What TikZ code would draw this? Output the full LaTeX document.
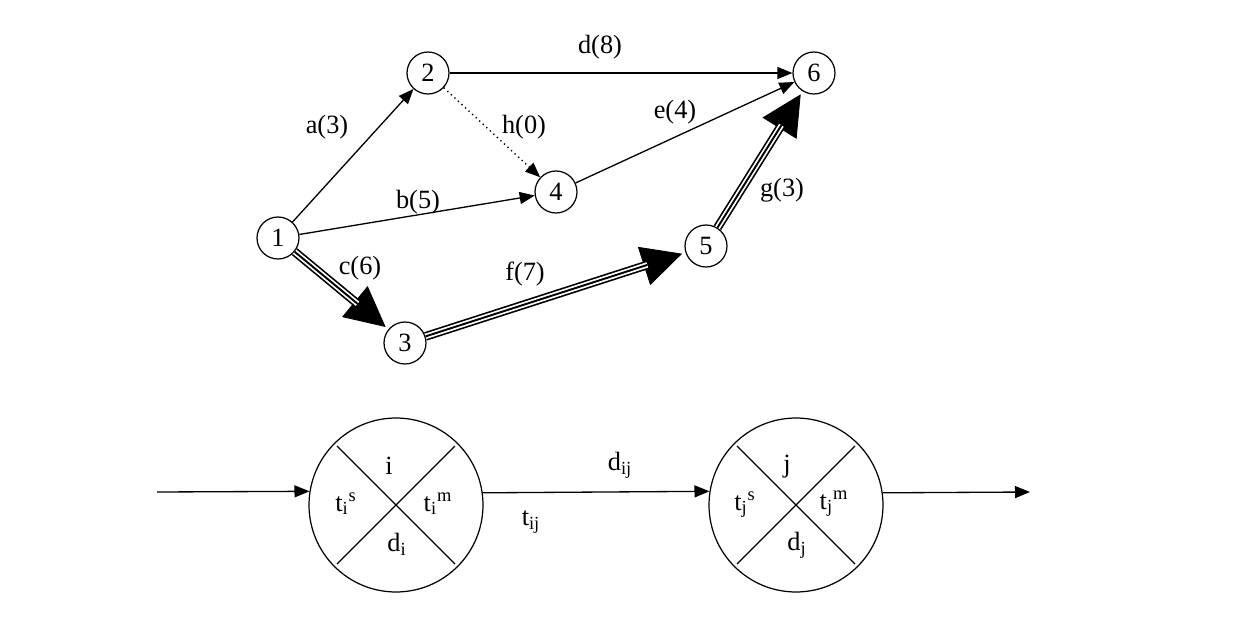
\documentclass[tikz,border=0pt]{standalone}
\usepackage{fontspec}
\setmainfont{Liberation Serif}
\usetikzlibrary{arrows.meta}

\begin{document}
\begin{tikzpicture}[
  x=0.02cm, y=-0.02cm,
  font=\fontsize{15}{18}\selectfont,
  event/.style={
    circle, draw, line width=0.7pt,
    minimum size=0.84cm, inner sep=0pt,
  },
  bigevent/.style={event, minimum size=3.48cm},
  lbl/.style={inner sep=1pt},
  act/.style={-{Triangle[length=0.3cm,width=0.24cm]}, line width=0.75pt},
  dummy/.style={act, dotted},
  crithead/.style={-{Triangle[length=0.8cm,width=0.8cm]}, line width=0.5pt, shorten >=2pt},
  critline/.style={
    line width=5pt, shorten >=0.8cm,
    postaction={draw=white, line width=3.1pt},
    postaction={draw=black, line width=1.1pt},
  },
  cross/.style={line width=0.7pt},
]
\useasboundingbox (0,0) rectangle (1247,619);

\node[event] (n1) at (278,238) {1};
\node[event] (n2) at (428,73)  {2};
\node[event] (n3) at (405,343) {3};
\node[event] (n4) at (556,192) {4};
\node[event] (n5) at (706,246) {5};
\node[event] (n6) at (814,73)  {6};

\draw[act]   (n1) -- (n2);
\draw[act]   (n1) -- (n4);
\draw[act]   (n2) -- (n6);
\draw[dummy] (n2) -- (n4);
\draw[act]   (n4) -- (n6);

\draw[crithead] (n1) -- (n3);
\draw[critline] (n1) -- (n3);
\draw[crithead] (n3) -- (n5);
\draw[critline] (n3) -- (n5);
\draw[crithead] (n5) -- (n6);
\draw[critline] (n5) -- (n6);

\node[lbl] (la) at (327,127) {a(3)};
\node[lbl] (lb) at (418,202) {b(5)};
\node[lbl] (lc) at (360,268) {c(6)};
\node[lbl] (ld) at (600,47)  {d(8)};
\node[lbl] (le) at (675,112) {e(4)};
\node[lbl] (lf) at (525,274) {f(7)};
\node[lbl] (lg) at (782,190) {g(3)};
\node[lbl] (lh) at (524,127) {h(0)};

\coordinate (in)  at (157,492);
\coordinate (out) at (1030,492);
\node[bigevent] (ni) at (396,505) {};
\node[bigevent] (nj) at (796,505) {};

\draw[cross] (ni.center) ++(-59,-59) -- ++(118,118);
\draw[cross] (ni.center) ++(59,-59) -- ++(-118,118);
\draw[cross] (nj.center) ++(-59,-59) -- ++(118,118);
\draw[cross] (nj.center) ++(59,-59) -- ++(-118,118);

\node[lbl] (ni-top)   at ([shift={(-7,-39)}]ni.center) {i};
\node[lbl] (ni-left)  at ([shift={(-50,-1)}]ni.center) {t\textsubscript{i}\textsuperscript{s}};
\node[lbl] (ni-right) at ([shift={(42,-1)}]ni.center)  {t\textsubscript{i}\textsuperscript{m}};
\node[lbl] (ni-bot)   at ([shift={(1,39)}]ni.center)   {d\textsubscript{i}};

\node[lbl] (nj-top)   at ([shift={(-9,-38)}]nj.center) {j};
\node[lbl] (nj-left)  at ([shift={(-51,0)}]nj.center)  {t\textsubscript{j}\textsuperscript{s}};
\node[lbl] (nj-right) at ([shift={(38,-1)}]nj.center)  {t\textsubscript{j}\textsuperscript{m}};
\node[lbl] (nj-bot)   at ([shift={(1,40)}]nj.center)   {d\textsubscript{j}};

\draw[act] (in) -- (ni.171.4);
\draw[act] (ni.8.6) -- (nj.171.4);
\draw[act] (nj.8.6) -- (out);

\node[lbl] (ldij) at (620,465) {d\textsubscript{ij}};
\node[lbl] (ltij) at (531,522) {t\textsubscript{ij}};
\end{tikzpicture}
\end{document}
